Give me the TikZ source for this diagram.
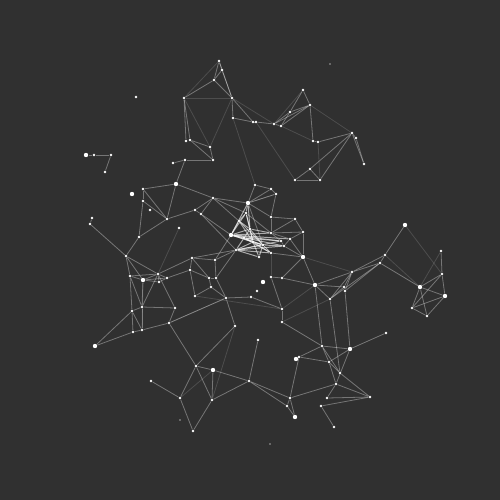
\documentclass[tikz,border=0pt]{standalone}
\usetikzlibrary{calc}
\definecolor{bgdark}{RGB}{48,48,48}

\begin{document}
\begin{tikzpicture}[x=0.2mm,y=-0.2mm]
      % Styles
      \tikzset{dot/.style={circle,fill=white,inner sep=0pt,minimum size=1.6pt},
               bigdot/.style={dot,minimum size=2.5pt},
               tinydot/.style={dot,minimum size=1pt,fill=white!55!bgdark},
               link/.style={white,opacity=0.34,line width=0.45pt},
               hotlink/.style={link,opacity=0.6,line width=0.55pt},
               faintlink/.style={link,opacity=0.14}}

      % Background
      \fill[bgdark] (0,0) rectangle (500,500);

      % Points (pixel positions)
      \foreach \n/\x/\y in {t1/219/61,t2/222/70,t3/214/80,t4/184/98,t5/232/98,t6/233/118,
          t7/186/141,t8/190/140,t9/210/147,t10/213/160,t11/185/160,t12/173/163,t13/253/122,
          t14/256/122,t15/274/124,t16/281/126,t17/303/90,t18/290/112,t19/310/105,t20/313/141,
          t21/318/142,t22/352/133,t23/356/138,t24/364/164,t25/310/169,t26/295/180,t27/320/180,
          f2/94/155,f3/111/155,f4/105/172,f5/92/218,f6/90/224,
          u2/143/189,u3/143/201,u4/167/219,u5/195/210,u6/201/214,u7/213/198,u8/179/228,u9/139/237,
          c1/255/185,c2/271/189,c3/276/194,c5/246/213,c6/271/217,c7/295/219,c8/239/221,c9/250/229,
          c11/271/233,c12/244/238,c13/253/242,c14/236/250,c15/263/245,c16/281/241,c17/290/239,
          c18/284/246,c19/303/232,c21/259/257,c22/271/253,
          l1/126/256,l2/130/276,l4/158/274,l5/159/282,l6/167/278,l7/190/270,l8/192/258,
          l9/215/260,l10/209/278,l11/216/278,l12/211/287,l13/195/296,l14/226/298,l15/132/311,
          l16/142/307,l17/175/308,l18/133/332,l19/142/330,l20/169/323,
          m1/235/326,m2/258/340,m3/196/366,m5/151/381,m6/180/398,m7/212/400,m8/249/381,
          m9/193/431,m10/251/297,m11/271/277,m12/282/278,m13/282/309,m14/282/322,
          r2/330/299,r3/344/287,r4/345/291,r5/352/272,r6/380/263,r7/385/255,r9/441/251,
          r10/442/274,r13/412/308,r14/427/316,r15/386/333,
          s1/322/346,s4/299/357,s5/329/362,s6/340/373,s7/336/384,s8/370/397,s9/290/398,
          s10/287/406,s12/327/398,s13/321/406,s14/334/427,
          i1/136/97,i4/150/210,i6/257/291}
        \node[dot] (\n) at (\x,\y) {};

      \foreach \n/\x/\y in {f1/86/155,f7/95/346,u1/176/184,c4/248/203,c10/231/235,c20/303/257,
          l3/143/280,m4/213/370,r1/315/285,r8/405/225,r11/445/296,r12/420/287,
          s2/350/349,s3/296/359,s11/295/417,i3/132/194,i5/263/282}
        \node[bigdot] (\n) at (\x,\y) {};

      \foreach \n/\x/\y in {i2/330/64,i7/270/444,i8/180/420}
        \node[tinydot] (\n) at (\x,\y) {};

      % Links
      \foreach \a/\b in {t1/t2,t1/t3,t2/t3,t1/t5,t2/t5,t3/t4,t3/t5,t4/t7,t4/t8,t5/t6,t5/t13,
          t6/t13,t8/t9,t8/t10,t9/t10,t11/t10,t11/t12,t11/u1,f1/f2,f2/f3,f3/f4,
          t13/t14,t14/t15,t15/t16,t17/t18,t17/t19,t18/t19,t19/t15,t19/t16,t18/t16,t18/t15,
          t19/t20,t20/t21,t21/t22,t22/t23,t23/t24,t22/t24,t22/t25,t22/t27,t25/t26,t25/t27,t26/t27,
          u1/u2,u1/u4,u1/u7,u2/u3,u2/u4,u3/u4,u4/u5,u5/u7,u5/u6,u6/u7,u7/c4,u3/u9,u4/u9,
          f5/f6,f6/l1,u9/l1,u6/c10,u7/c5,u7/c8,
          c1/c2,c1/c4,c2/c4,c3/c4,c2/c3,c4/c6,c4/c15,c5/c11,
          c11/c17,c11/c16,c6/c7,c6/c11,c16/c18,c17/c18,c17/c19,c19/c11,c7/c11,c7/c19,c18/c20,
          c22/c20,c19/c20,c6/c3,u6/c14,l9/c14,l9/c10,l8/c14,l11/c14,c17/c20,
          l1/l2,l1/l3,l1/l4,l2/l4,l2/l3,l3/l4,l3/l6,l4/l6,l4/l8,l6/l7,l7/l10,l8/l10,l7/l8,l8/l9,
          l9/l11,l10/l11,l11/l14,l12/l14,l10/l12,l7/l13,l13/l12,l2/l15,l3/l16,l15/l18,l16/l19,
          l15/l19,l18/l19,l19/l20,l16/l17,l17/l20,l4/l17,l5/l3,l5/l4,l5/l6,l15/l16,l16/l4,l2/l16,
          f7/l15,f7/l18,l20/l14,l14/m10,
          l20/m3,m1/m3,m1/l14,m3/m4,m3/m6,m3/m7,m4/m7,m4/m8,m7/m8,m5/m6,m6/m9,m7/m9,m8/m2,
          m8/s9,m8/s10,m10/m13,m11/m12,m12/r1,m12/c20,m11/m13,m13/m14,m14/s1,
          c20/r1,r1/r2,r1/r3,r1/r5,r2/r3,r2/r5,r3/r5,r4/r5,r5/r6,r5/r7,r6/r7,r7/r8,r2/r6,r4/r6,
          r9/r10,r10/r12,r10/r11,r10/r13,r12/r11,r12/r13,r12/r14,r11/r14,r13/r14,r13/r11,r6/r12,
          s1/s2,s1/s4,s4/s3,s4/s5,s1/s5,s1/s6,s2/s5,s2/s7,s5/s6,s5/s7,s6/s8,s7/s8,s4/s9,s9/s10,
          s10/s11,s9/s11,s9/s7,s12/s8,s13/s8,s13/s14,s2/r15,r1/s1,r2/s6,r4/s2,s7/s12}
        \draw[link] (\a) -- (\b);

      % Dense bright core
      \foreach \a/\b in {c4/c5,c4/c10,c5/c8,c5/c9,c5/c10,c8/c10,c8/c9,c8/c13,c9/c10,c9/c11,
          c9/c12,c9/c15,c10/c12,c10/c13,c10/c15,c10/c18,c12/c13,c12/c14,c13/c15,c13/c21,
          c14/c15,c14/c13,c14/c22,c15/c18,c15/c21,c15/c22,c21/c14,c10/c16,c10/c17,c12/c16,
          c14/c18,c13/c22,c8/c15,c5/c13,c9/c13,c12/c15,c10/c11,c14/c16,c4/c9,c12/c22}
        \draw[hotlink] (\a) -- (\b);

      \foreach \a/\b in {t1/t4,t4/t5,t4/t9,t5/t9,t17/t15,t19/t22,t21/t27,t16/t20,t6/c1,t14/t26,
          t5/t15,u8/l4,l3/l19,l13/m13,m1/m7,m6/m4,m11/c22,m14/r2,r1/m13,r8/r10,r7/r12,r9/r12,
          c20/r5,l20/l14,c4/c3}
        \draw[faintlink] (\a) -- (\b);
\end{tikzpicture}
\end{document}
